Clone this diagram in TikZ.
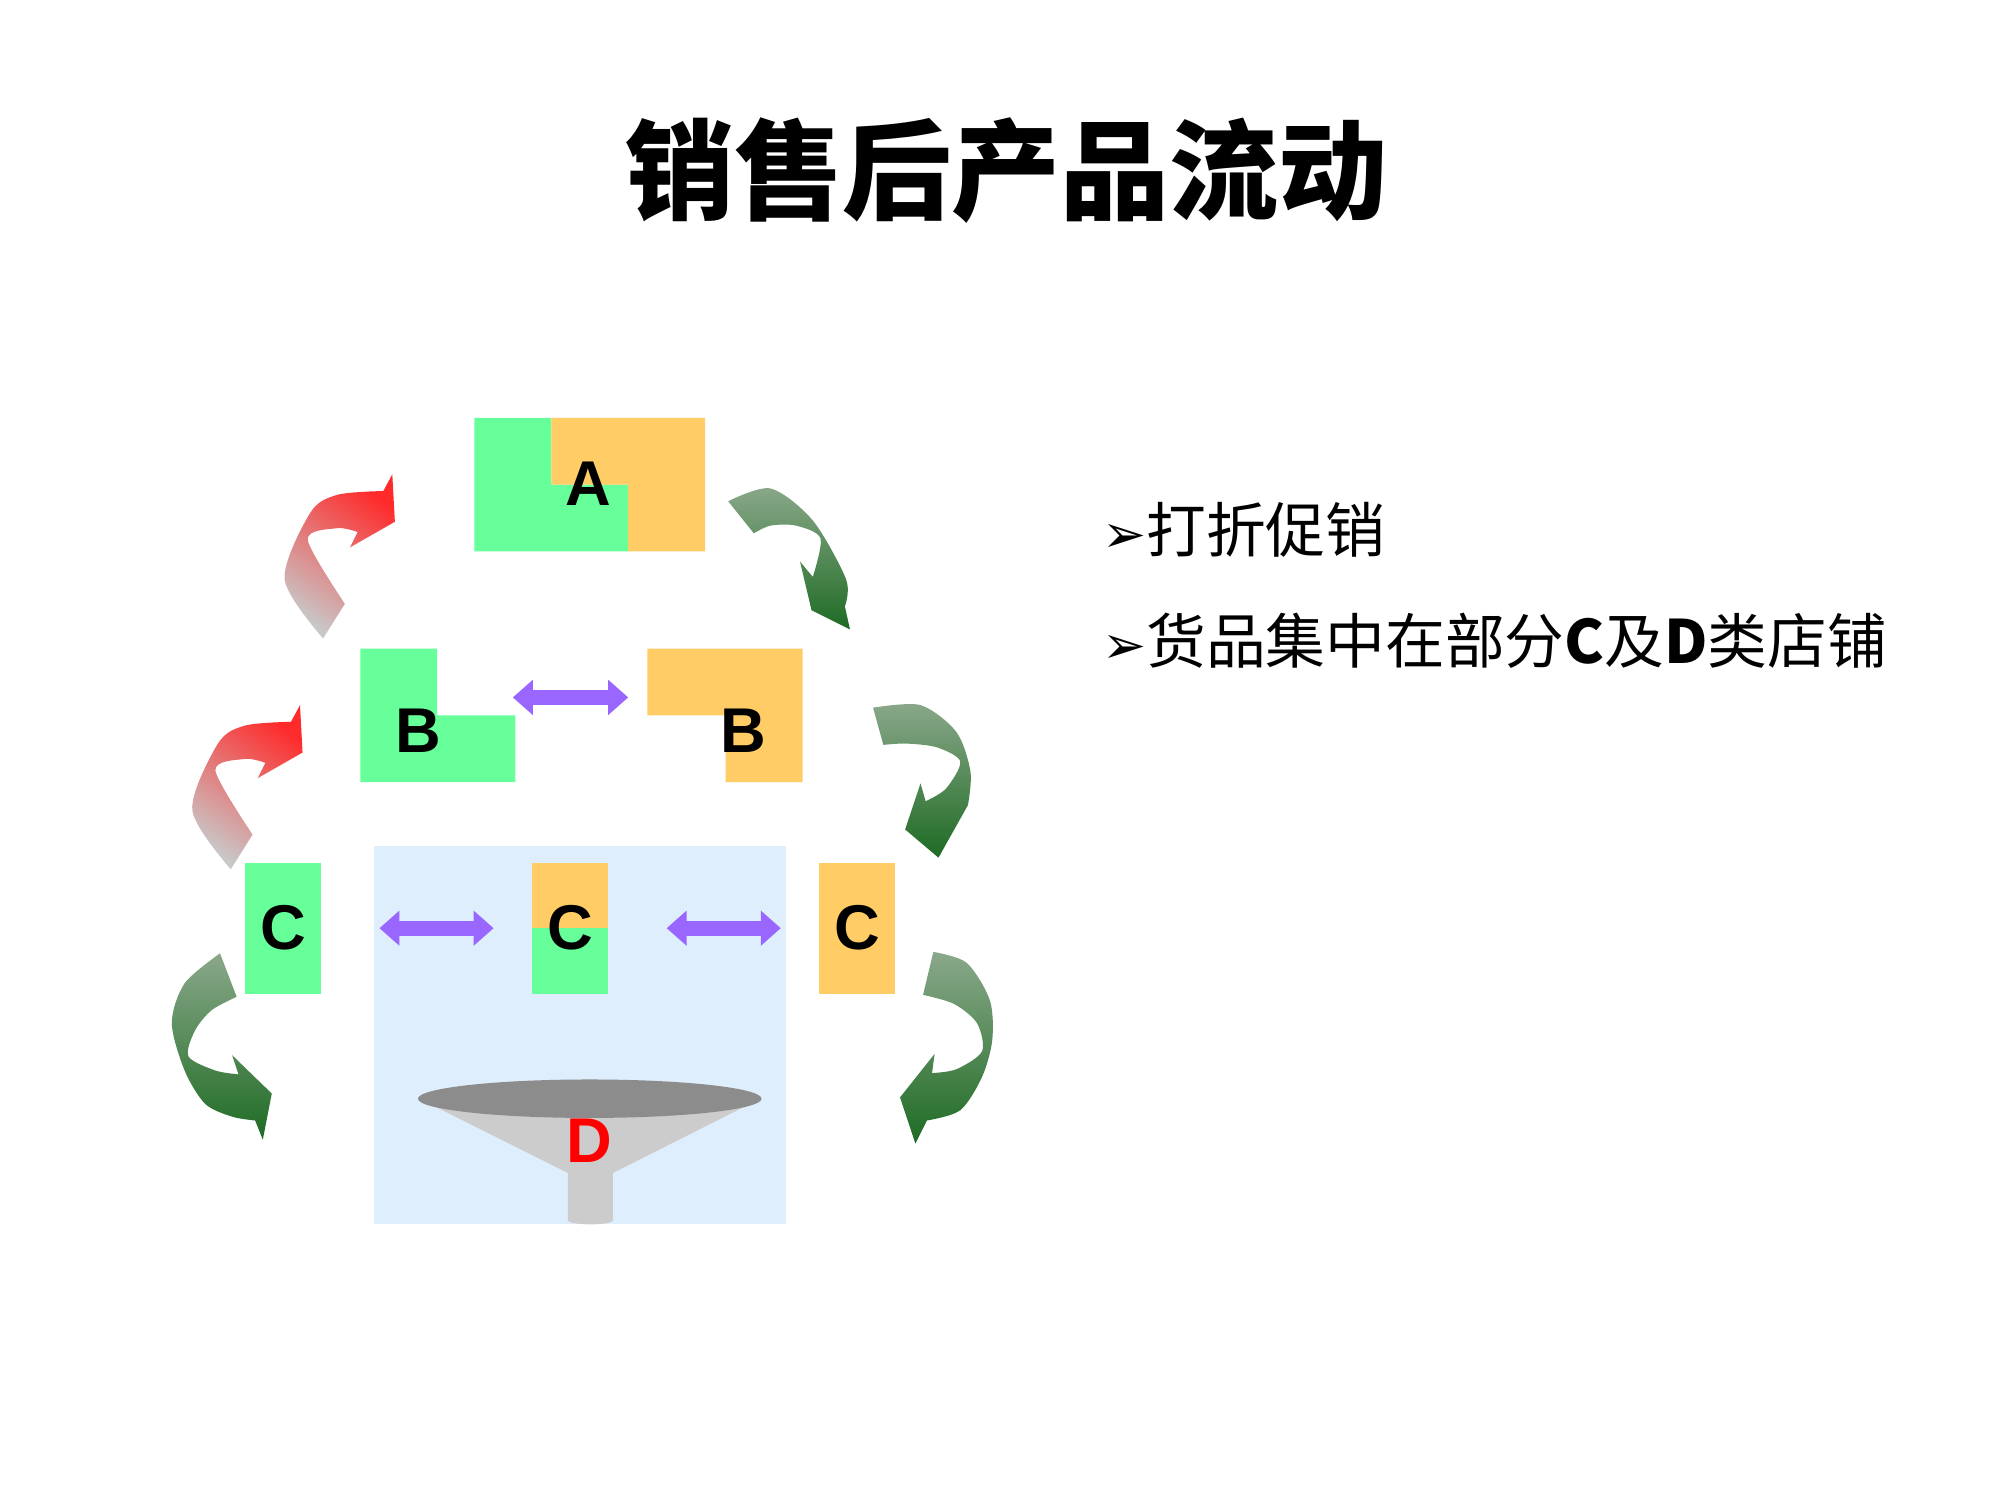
\documentclass[tikz,border=0pt]{standalone}
\usepackage{fontspec}
\setmainfont{Liberation Sans}
\newfontfamily\cjk{Noto Sans CJK SC}
\newfontfamily\djv{DejaVu Sans}
\usetikzlibrary{arrows.meta}
\definecolor{bgreen}{HTML}{66FF99}
\definecolor{borange}{HTML}{FFCC66}
\definecolor{bblue}{HTML}{DEEEFC}
\definecolor{purp}{HTML}{9966FF}
\definecolor{gtop}{HTML}{8AA88A}
\definecolor{gbot}{HTML}{1E6B24}
\definecolor{rtop}{HTML}{FF2A2A}
\definecolor{rbot}{HTML}{C8C8C8}
\tikzset{
  lbl/.style={font=\bfseries\fontsize{18}{18}\selectfont},
  dbl/.style={draw=purp, line width=1.5mm, {Triangle[width=3.4mm,length=2mm]}-{Triangle[width=3.4mm,length=2mm]}, shorten <=0pt},
  greenarr/.style={top color=gtop, bottom color=gbot},
  redarr/.style={top color=rtop, bottom color=rbot, shading angle=-35},
  bul/.style={anchor=west, font=\cjk\fontsize{17}{17}\selectfont}
}
\begin{document}
\begin{tikzpicture}[x=0.1282mm,y=-0.1282mm]
\useasboundingbox (0,0) rectangle (1560,1170);
% title
\node[font=\cjk\bfseries\fontsize{31}{31}\selectfont] (title) at (785,133) {销售后产品流动};
% A
\fill[bgreen] (370,326) -- (430,326) -- (430,378) -- (490,378) -- (490,430) -- (370,430) -- cycle;
\fill[borange] (430,326) -- (550,326) -- (550,430) -- (490,430) -- (490,378) -- (430,378) -- cycle;
\node[lbl] (A) at (459,377) {A};
% B
\fill[bgreen] (281,506) -- (341,506) -- (341,558) -- (402,558) -- (402,610) -- (281,610) -- cycle;
\node[lbl] (B1) at (326,570) {B};
\fill[borange] (505,506) -- (626,506) -- (626,610) -- (566,610) -- (566,558) -- (505,558) -- cycle;
\node[lbl] (B2) at (580,570) {B};
\coordinate (ab1) at (400,544); \coordinate (ab2) at (490,544);
\draw[dbl] (ab1) -- (ab2);
% background
\fill[bblue] (292,660) rectangle (613,955);
% C
\fill[bgreen] (191,673) rectangle (250,775);
\node[lbl] (C1) at (221,724) {C};
\fill[borange] (415,673) rectangle (474,724);
\fill[bgreen] (415,724) rectangle (474,775);
\node[lbl] (C2) at (445,724) {C};
\fill[borange] (639,673) rectangle (698,775);
\node[lbl] (C3) at (669,724) {C};
\coordinate (ac1) at (296,724); \coordinate (ac2) at (385,724);
\coordinate (ac3) at (520,724); \coordinate (ac4) at (609,724);
\draw[dbl] (ac1) -- (ac2);
\draw[dbl] (ac3) -- (ac4);
% funnel
\fill[gray!40] (327,857) -- (593,857) -- (478,915) -- (443,915) -- cycle;
\fill[gray!40] (443,905) -- (478,905) -- (478,952) arc[start angle=0,end angle=-180,x radius=17.5,y radius=-3] -- cycle;
\fill[gray!90] (460,857) ellipse[x radius=134, y radius=15];
\node[font=\bfseries\fontsize{18}{18}\selectfont, text=red] (D) at (460,890) {D};
% red arrows
\foreach \dx/\dy in {0/0, -72/180}{
\begin{scope}[shift={(\dx,\dy)}]
\shade[redarr] plot[smooth] coordinates {(252,498) (222,452) (242,400) (263,386) (299,383)} -- (306,370) -- (308,407) -- (273,427) -- (279,415) -- plot[smooth] coordinates {(279,415) (263,412) (240,421) (269,471)} -- cycle;
\end{scope}}
% green arrows
\shade[greenarr] plot[smooth] coordinates {(568,391) (601,381) (634,406) (660,452) (659,473)} -- (663,491) -- (633,476) -- (624,438) -- (634,450) -- plot[smooth] coordinates {(634,450) (640,420) (621,410) (601,410) (588,416)} -- cycle;
\shade[greenarr] plot[smooth] coordinates {(681,552) (718,550) (746,571) (757,602) (755,628)} -- (732,669) -- (706,647) -- (718,611) -- (722,625) -- plot[smooth] coordinates {(722,625) (738,615) (749,594) (731,583) (707,580) (689,581)} -- cycle;
\shade[greenarr] plot[smooth] coordinates {(171.6,743.6) (144,767) (134,798) (144,835) (160,861) (181,871) (199,874)} -- (205,889) -- (212,853) -- (181,823) -- (186,838) -- plot[smooth] coordinates {(186,838) (168,835) (147,824) (152,804) (165,788) (184.6,777.5)} -- cycle;
\shade[greenarr] plot[smooth] coordinates {(728,742.5) (754,751) (772,780) (774,811) (766,840) (749,866) (723,874)} -- (714,892) -- (702,856) -- (729,822) -- (727,837) -- plot[smooth] coordinates {(727,837) (746,834) (766,820) (762,798) (744,783) (720,776)} -- cycle;
% bullets
\node[bul] (t1) at (850,413) {{\djv\fontsize{15}{15}\selectfont ➢}打折促销};
\node[bul] (t2) at (850,500) {{\djv\fontsize{15}{15}\selectfont ➢}货品集中在部分{\bfseries C}及{\bfseries D}类店铺};
\end{tikzpicture}
\end{document}
